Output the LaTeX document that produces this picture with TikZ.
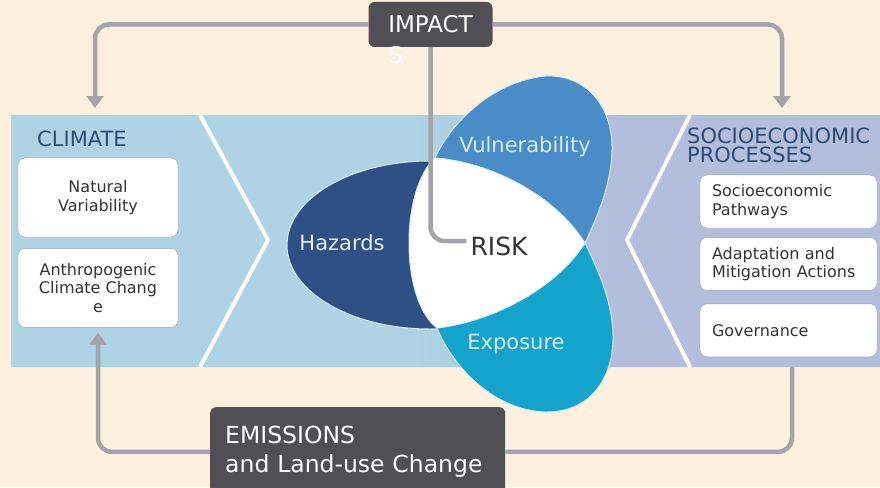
\documentclass[tikz,border=0pt]{standalone}
\usepackage{fontspec}
\setmainfont{DejaVu Sans}
\usepackage{tikz}
\usetikzlibrary{shapes,positioning,calc}
\usetikzlibrary{arrows.meta}
\definecolor{cream}{RGB}{253,240,223}
\definecolor{bandblue}{RGB}{173,211,228}
\definecolor{bandlav}{RGB}{179,190,221}
\definecolor{boxdark}{RGB}{80,80,84}
\definecolor{flowgray}{RGB}{163,163,170}
\definecolor{hazblue}{RGB}{46,80,132}
\definecolor{vulblue}{RGB}{74,140,200}
\definecolor{expblue}{RGB}{20,163,203}
\definecolor{titlenavy}{RGB}{44,76,118}
\definecolor{boxtext}{RGB}{51,51,51}
\definecolor{boxedge}{RGB}{150,165,178}
\definecolor{petaledge}{RGB}{215,236,245}
\pgfdeclarehorizontalshading{bandfade}{100bp}{color(0bp)=(bandblue); color(47bp)=(bandblue); color(67bp)=(bandlav); color(100bp)=(bandlav)}
\tikzstyle{flow} = [line width=4.5pt,draw=flowgray,rounded corners=14pt,>={Triangle[width=17pt,length=12pt]}]

\begin{document}
\begin{tikzpicture}[x=1pt, y=-1pt,
	title/.style={text=titlenavy, font=\fontsize{21}{19}\selectfont, inner sep=0pt, align=left},
	factor/.style={draw=boxedge, fill=white, rounded corners=7pt, text=boxtext, font=\fontsize{16}{18.5}\selectfont},
	climfactor/.style={factor, minimum width=160pt, minimum height=79pt, align=center},
	socfactor/.style={factor, minimum height=53pt, text width=153pt, inner xsep=12pt, align=left},
	darkbox/.style={fill=boxdark, rounded corners=6pt, text=white},
	petal/.style={draw=petaledge, line width=1pt},
	petallabel/.style={font=\fontsize{21}{24}\selectfont}]
		
			\useasboundingbox (0,0) rectangle (880,487);
			\fill[cream] (0,0) rectangle (880,487);
			
			% BAND
			
			\fill[bandblue] (11,115) -- (200,115) -- (268,240) -- (200,367) -- (11,367) -- cycle;
			\shade[shading=bandfade] (200,115) -- (690,115) -- (627,240) -- (690,367) -- (200,367) -- (268,240) -- cycle;
			\fill[bandlav] (690,115) -- (880,115) -- (880,367) -- (690,367) -- (627,240) -- cycle;
			\draw[white, line width=4pt, line join=round] (200,115) -- (268,240) -- (200,367);
			\draw[white, line width=4pt, line join=round] (690,115) -- (627,240) -- (690,367);
			
			% PETALS
			
			\filldraw[petal, fill=hazblue] (430,245) ellipse [x radius=143pt, y radius=84pt];
			\filldraw[petal, fill=vulblue] (435,158) .. controls (450,125) and (490,82) .. (545,76) .. controls (585,74) and (613,105) .. (612,150) .. controls (611,185) and (598,215) .. (585,243) -- (520,243) -- cycle;
			\filldraw[petal, fill=expblue] (437,328) .. controls (452,365) and (492,410) .. (545,412) .. controls (590,413) and (614,378) .. (613,335) .. controls (612,300) and (598,270) .. (585,243) -- (520,243) -- cycle;
			\filldraw[petal, fill=white] (435,158) .. controls (490,162) and (555,195) .. (585,243) .. controls (555,290) and (490,322) .. (437,328) .. controls (400,300) and (400,190) .. cycle;
			
			\node[petallabel, text=white!90!hazblue] (hazards) at (342,243) {Hazards};
			\node[petallabel, text=petaledge] (vulnerability) at (525,147) {Vulnerability};
			\node[petallabel, text=petaledge] (exposure) at (516,344) {Exposure};
			\node[font=\fontsize{25}{28}\selectfont, text=boxtext, inner sep=4pt] (risk) at (499,246) {RISK};
			
			% FACTORS
			
			\node[title, anchor=base west] (climtitle) at (37,146) {CLIMATE};
			\node[climfactor] (natural) at (98,197.5) {Natural\\Variability};
			\node[climfactor, below=11pt of natural] (anthro) {Anthropogenic\\Climate Chang\\e};
			
			\node[title, anchor=north west] (soctitle) at (687,128) {SOCIOECONOMIC\\PROCESSES};
			\node[socfactor] (pathways) at (788.5,201.5) {Socioeconomic\\Pathways};
			\node[socfactor, below=9pt of pathways] (actions) {Adaptation and\\Mitigation Actions};
			\node[socfactor, below=13pt of actions] (governance) {Governance};
			
			\node[darkbox, minimum width=124pt, minimum height=45pt, font=\fontsize{23}{27}\selectfont] (impacts) at (430.5,24.5) {\rlap{\smash{\raisebox{-31pt}{S}}}IMPACT};
			\node[darkbox, anchor=north west, inner xsep=15pt, inner ysep=19pt, text width=265pt, align=left, font=\fontsize{23.5}{29}\selectfont] (emissions) at (210,407) {EMISSIONS\\and Land-use Change};
			
			% LINKS
			
			\coordinate (climin) at (95,108);
			\coordinate (socin) at (782,108);
			\coordinate (socout) at (792,367);
			
			\draw[flow,->] (impacts.west) -| (climin);
			\draw[flow,->] (impacts.east) -| (socin);
			\draw[flow] (impacts.south) |- ([yshift=5pt]risk.west);
			\draw[flow,->] (emissions.west) -| ([yshift=-5pt]anthro.south);
			\draw[flow] (socout) |- (emissions.east);
			
		\end{tikzpicture}
\end{document}
